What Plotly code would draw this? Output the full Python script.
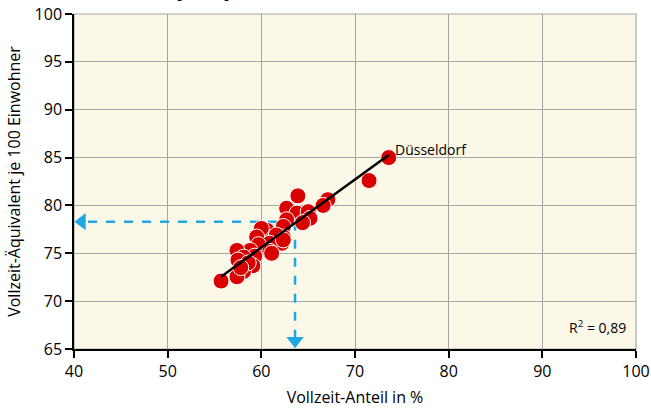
import plotly.graph_objects as go

# Data
vollzeit_anteil = [73.6, 71.5, 67.1, 66.6, 63.9, 62.7, 63.8, 65.0, 65.2, 64.4, 62.7, 62.35,
                   60.6, 60.0, 62.35, 61.6, 59.5, 62.2, 60.9, 59.7, 58.8, 57.4, 60.9, 59.3,
                   58.1, 57.5, 59.1, 58.1, 57.4, 55.7, 62.35, 61.1, 58.6, 57.8]
vza_je_100 = [85.0, 82.6, 80.6, 80.0, 81.0, 79.7, 79.2, 79.35, 78.65, 78.2, 78.5, 77.8,
              77.4, 77.6, 76.7, 76.9, 76.7, 76.05, 76.05, 75.9, 75.3, 75.3, 75.2, 74.7,
              74.6, 74.3, 73.7, 73.1, 72.55, 72.1, 76.4, 75.0, 74.0, 73.5]
trend_x = [55.7, 73.6]
trend_y = [72.55, 85.27]
guide_x = 63.6
guide_y = 78.3
x_ticks = [40, 50, 60, 70, 80, 90, 100]
y_ticks = [65, 70, 75, 80, 85, 90, 95, 100]
label_city = "Düsseldorf"
r2_text = "R<sup>2</sup> = 0,89"
heading = "(8-4)"

FONT = "Open Sans"
BLUE = "#1ea7e4"

fig = go.Figure()

# dashed guide lines
fig.add_trace(go.Scatter(x=[guide_x, 41.2], y=[guide_y, guide_y], mode="lines",
                         line=dict(color=BLUE, width=2.5, dash="dash"),
                         hoverinfo="skip", showlegend=False, cliponaxis=False))
fig.add_trace(go.Scatter(x=[guide_x, guide_x], y=[guide_y, 66.2], mode="lines",
                         line=dict(color=BLUE, width=2.5, dash="dash"),
                         hoverinfo="skip", showlegend=False, cliponaxis=False))
# arrowheads
fig.add_trace(go.Scatter(x=[40.85], y=[guide_y], mode="markers",
                         marker=dict(symbol="triangle-left", size=15, color=BLUE),
                         hoverinfo="skip", showlegend=False, cliponaxis=False))
fig.add_trace(go.Scatter(x=[guide_x], y=[65.85], mode="markers",
                         marker=dict(symbol="triangle-down", size=15, color=BLUE),
                         hoverinfo="skip", showlegend=False, cliponaxis=False))

# points
fig.add_trace(go.Scatter(x=vollzeit_anteil, y=vza_je_100, mode="markers",
                         marker=dict(size=16, color="#d90000",
                                     line=dict(color="white", width=1)),
                         showlegend=False, cliponaxis=False))
# trend line
fig.add_trace(go.Scatter(x=trend_x, y=trend_y, mode="lines",
                         line=dict(color="black", width=2.5),
                         hoverinfo="skip", showlegend=False))

fig.add_annotation(x=trend_x[1], y=trend_y[1], text=label_city,
                   xref="x", yref="y", showarrow=False, xanchor="left", yanchor="bottom",
                   xshift=4, yshift=-6, font=dict(family=FONT, size=14, color="black"))
fig.add_annotation(x=0.985, y=0.03, xref="paper", yref="paper", text=r2_text,
                   showarrow=False, xanchor="right", yanchor="bottom",
                   font=dict(family=FONT, size=14, color="black"))
# heading, cut off by the top edge as in the reference
fig.add_annotation(x=0.229, y=1.022, xref="paper", yref="paper", text="<b>" + heading + "</b>",
                   showarrow=False, xanchor="center", yanchor="bottom",
                   font=dict(family=FONT, size=28, color="black"))
# y axis title as annotation for exact placement
fig.add_annotation(x=-0.108, y=0.5, xref="paper", yref="paper",
                   text="Vollzeit-Äquivalent je 100 Einwohner", textangle=-90,
                   showarrow=False, xanchor="center", yanchor="middle",
                   font=dict(family=FONT, size=16, color="black"))

fig.update_layout(
    width=651, height=414,
    margin=dict(l=74, r=15, t=14, b=65),
    paper_bgcolor="white",
    plot_bgcolor="#fcf8e8",
    font=dict(family=FONT, size=16, color="black"),
)
fig.update_xaxes(range=[40, 100], tickvals=x_ticks, showgrid=True, gridcolor="#a6a6a6",
                 gridwidth=1.2, showline=True, linecolor="black", linewidth=1.5,
                 ticks="outside", ticklen=7, tickcolor="black", tickwidth=1.5,
                 mirror=False, zeroline=False, automargin=False,
                 title=dict(text="Vollzeit-Anteil in %", font=dict(size=16), standoff=11),
                 tickfont=dict(size=16))
fig.update_yaxes(range=[65, 100], tickvals=y_ticks, showgrid=True, gridcolor="#a6a6a6",
                 gridwidth=1.2, showline=True, linecolor="black", linewidth=1.5,
                 ticks="outside", ticklen=7, tickcolor="black", tickwidth=1.5,
                 zeroline=False, automargin=False, ticklabelstandoff=0,
                 tickfont=dict(size=16))
# top and right border in grey
fig.add_shape(type="rect", xref="paper", yref="paper", x0=0, y0=0, x1=1, y1=1,
              line=dict(color="#a6a6a6", width=1.2), layer="below")

fig.write_html("out.html", config={"displayModeBar": False},
               post_script="document.body.style.margin='0';document.body.style.overflow='hidden';")
